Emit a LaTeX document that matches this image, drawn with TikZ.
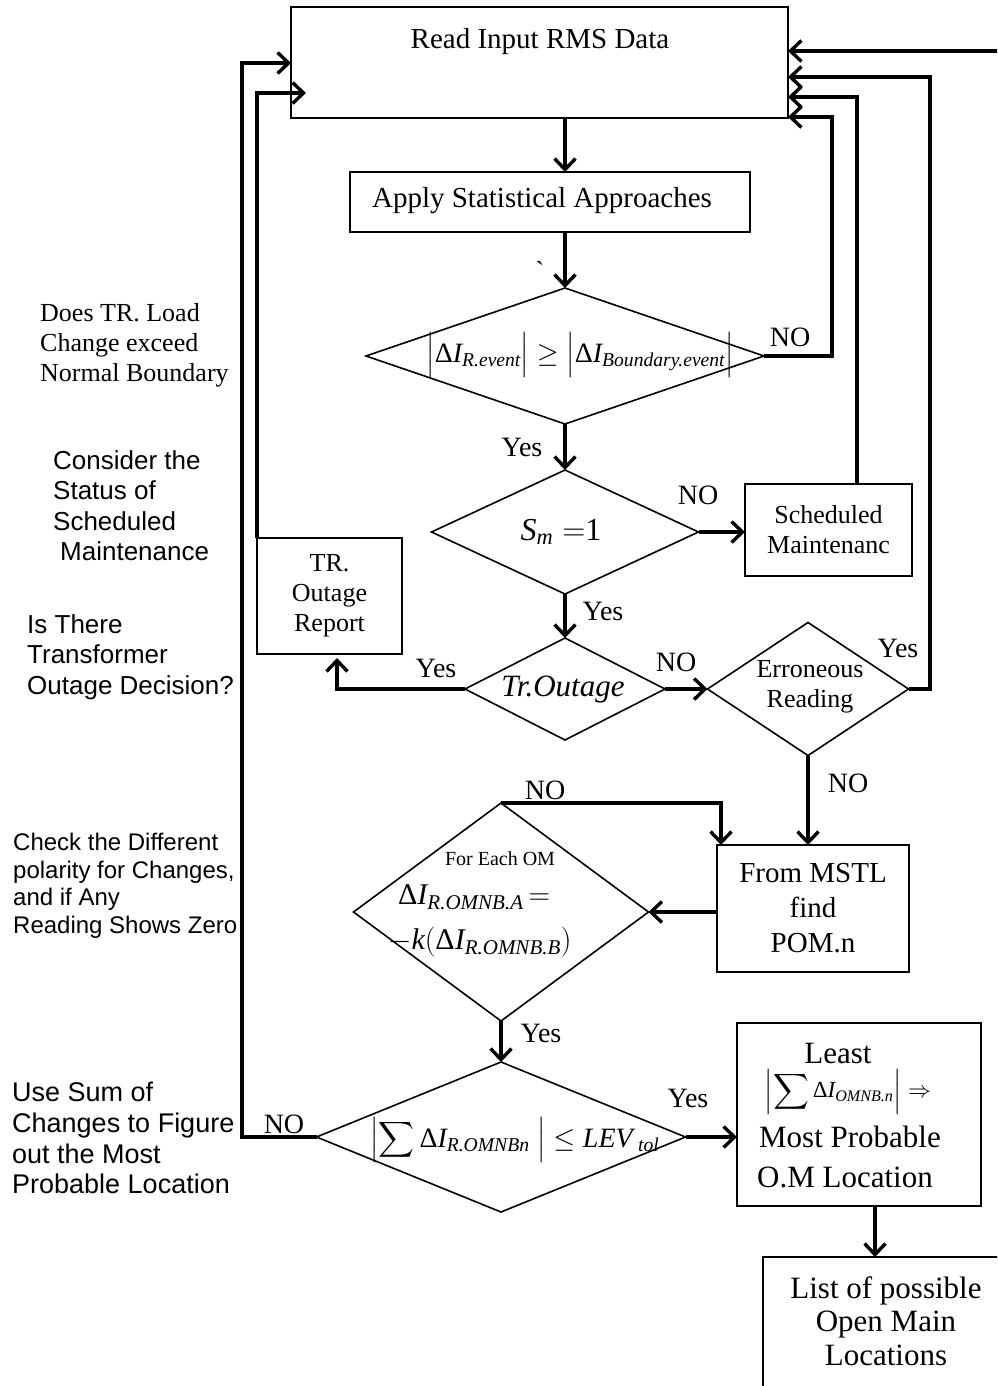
\RequirePackage{fix-cm}
\documentclass[tikz,border=0pt]{standalone}
\usepackage{amsmath}
\usepackage{fontspec}
\setmainfont{Liberation Serif}
\newfontfamily\notefont{Liberation Sans}
\usetikzlibrary{shapes.geometric,arrows.meta,calc}

\newcommand{\fsz}[2]{\fontsize{#1}{#2}\selectfont}
\newcommand{\dI}{\text{Δ}\textit{I}}
\newcommand{\barstrut}[2]{\rule[-#1]{0pt}{#2}}

\begin{document}
\begin{tikzpicture}[x=1pt,y=-1pt,
  box/.style={draw, line width=1.6pt, inner sep=0pt, outer sep=0pt},
  dec/.style={draw, diamond, line width=1.6pt, inner sep=0pt, outer sep=0pt},
  wire/.style={line width=3.4pt},
  flow/.style={wire, -{Straight Barb[length=11pt,width=21pt]}},
  txt/.style={inner sep=0pt, align=center, font=\fsz{26}{30}},
  big/.style={inner sep=0pt, align=center, font=\fsz{29}{35}},
  tag/.style={inner sep=0pt, font=\fsz{28}{30}},
  serifnote/.style={inner sep=0pt, align=left, anchor=west, font=\fsz{26}{30}},
  note/.style={inner sep=0pt, align=left, anchor=west, font=\notefont\fsz{26}{30.5}},
]
\useasboundingbox (0,0) rectangle (997,1386);
\clip (0,0) rectangle (997,1386);

% ---------- process blocks ----------
\node[box, minimum width=497pt, minimum height=111pt] (read) at (539.5,62.5) {};
\node[big] (readtxt) at (540,42) {Read Input RMS Data};

\node[box, minimum width=400pt, minimum height=60pt] (apply) at (550,202) {};
\node[big] (applytxt) at (542,201) {Apply Statistical Approaches};
\node[inner sep=0pt, font=\fsz{26}{30}\addfontfeature{Ligatures=TeXOff}] (tick) at (540,270) {`};

\coordinate (spine) at (565,0);

% boundary test
\node[dec, minimum width=398pt, minimum height=136pt] (d1) at (565,356) {};
\node[inner sep=0pt, font=\fsz{28}{32}] (d1t) at (580,356)
  {$\left|\barstrut{17pt}{44pt}\dI_{\textit{R.event}}\right|\geq
    \left|\barstrut{17pt}{44pt}\dI_{\textit{Boundary.event}}\right|$};

% scheduled maintenance test
\node[dec, minimum width=267pt, minimum height=124pt] (d2) at (565,532) {};
\node[inner sep=0pt, font=\fsz{32}{36}] (d2t) at (561,532) {$\textit{S}_{\textit{m}}\;{=}\text{1}$};

\node[box, minimum width=167pt, minimum height=92pt, txt] (sched) at (828.5,530) {Scheduled\\Maintenanc};

% outage test
\node[dec, minimum width=200pt, minimum height=102pt] (d3) at (565,689) {};
\node[inner sep=0pt, font=\fsz{31}{34}\itshape] (d3t) at (563,690) {Tr.Outage};

\node[box, minimum width=145pt, minimum height=116pt, txt] (trbox) at (329.5,596) {TR.\\Outage\\Report};

% erroneous reading test
\node[dec, minimum width=201pt, minimum height=133pt] (err) at (808,689) {};
\node[txt] (errt) at (810,687) {Erroneous\\Reading};

\node[box, minimum width=192pt, minimum height=127pt, big] (mstl) at (813,908.5) {From MSTL\\find\\POM.n};

% polarity test
\node[dec, minimum width=295pt, minimum height=218pt] (d4) at (501,912) {};
\node[inner sep=0pt, font=\fsz{20}{22}] (d4a) at (500,859) {For Each OM};
\node[inner sep=0pt, anchor=west, font=\fsz{30}{34}] (d4b) at (398,897)
  {$\dI_{\textit{R.OMNB.A}}\,{=}$};
\node[inner sep=0pt, anchor=west, font=\fsz{30}{34}] (d4c) at (388,942)
  {$-\textit{k}(\dI_{\textit{R.OMNB.B}})$};

% sum test
\node[dec, minimum width=369pt, minimum height=150pt] (d5) at (501,1137) {};
\node[inner sep=0pt, font=\fsz{28}{32}] (d5t) at (515,1140)
  {$\left|\displaystyle\sum\dI_{\textit{R.OMNBn}}\;\right|\leq\textit{LEV}_{\;\textit{tol}}$};

\node[box, minimum width=244pt, minimum height=183pt] (least) at (859,1114.5) {};
\node[inner sep=0pt, font=\fsz{31}{34}] (least1) at (838,1053) {Least};
\node[inner sep=0pt, font=\fsz{23}{26}] (least2) at (848,1092)
  {$\left|\displaystyle\sum\dI_{\scriptstyle\textit{OMNB.n}}\right|\Rightarrow$};
\node[inner sep=0pt, font=\fsz{31}{34}] (least3) at (850,1137) {Most Probable};
\node[inner sep=0pt, font=\fsz{31}{34}] (least4) at (845,1177) {O.M Location};

\node[box, minimum width=260pt, minimum height=160pt, anchor=north west] (list) at (763,1257) {};
\node[inner sep=0pt, align=center, font=\fsz{31}{33.5}] (listt) at (886,1321) {List of possible\\Open Main\\Locations};

% ---------- connectors ----------
\coordinate (ext) at (1000,51);
\coordinate (r2) at (930,77);
\coordinate (r3) at (857,97);
\coordinate (r4) at (832,117);
\coordinate (l1) at (242,63);
\coordinate (l2) at (259,93);
\coordinate (l2tip) at (306,93);
\coordinate (trtip) at (337,658);
\coordinate (d4no) at (721,803);
\coordinate (ll) at (875,0);

\draw[flow] (ext) -- (read.east |- ext);
\draw[flow] (read.south -| spine) -- (apply.north -| spine);
\draw[flow] (apply.south -| spine) -- (d1.north);
\draw[flow] (d1.east) -| (r4) -- (read.east |- r4);
\draw[flow] (d1.south) -- (d2.north);
\draw[flow] (d2.east) -- (sched.west |- d2.east);
\draw[flow] (sched.north -| r3) -- (r3) -- (read.east |- r3);
\draw[flow] (d2.south) -- (d3.north);
\draw[flow] (d3.west) -| (trtip);
\draw[flow] (trbox.north west) -- (trbox.north west |- l2) -- (l2tip);
\draw[flow] (d3.east) -- (err.west);
\draw[flow] (err.east) -| (r2) -- (read.east |- r2);
\draw[flow] (err.south) -- (err.south |- mstl.north);
\draw[flow] (d4.north) -- (d4no) -- (d4no |- mstl.north);
\draw[flow] (mstl.west |- d4.east) -- (d4.east);
\draw[flow] (d4.south) -- (d5.north);
\draw[flow] (d5.east) -- (least.west |- d5.east);
\draw[flow] (d5.west) -| (l1) -- (read.west |- l1);
\draw[flow] (least.south -| ll) -- (list.north -| ll);

% ---------- branch labels ----------
\node[tag] (n1) at (790,337) {NO};
\node[tag] (y1) at (522,447) {Yes};
\node[tag] (n2) at (698,495) {NO};
\node[tag] (y2) at (603,611) {Yes};
\node[tag] (y3) at (436,668) {Yes};
\node[tag] (n3) at (676,662) {NO};
\node[tag] (y4) at (898,648) {Yes};
\node[tag] (n4) at (848,783) {NO};
\node[tag] (n5) at (545,790) {NO};
\node[tag] (y5) at (541,1033) {Yes};
\node[tag] (y6) at (688,1098) {Yes};
\node[tag] (n6) at (284,1124) {NO};

% ---------- side notes ----------
\node[serifnote] (note1) at (40,345) {Does TR. Load\\Change exceed\\Normal Boundary};
\node[note] (note2) at (53,505.5) {Consider the\\Status of\\Scheduled\\\hspace*{7pt}Maintenance};
\node[note] (note3) at (27,657) {Is There\\Transformer\\Outage Decision?};
\node[note, font=\notefont\fsz{24}{27.5}] (note4) at (13,886) {Check the Different\\polarity for Changes,\\and if Any\\Reading Shows Zero};
\node[note, font=\notefont\fsz{27}{30.7}] (note5) at (12,1138) {Use Sum of\\Changes to Figure\\out the Most\\Probable Location};
\end{tikzpicture}
\end{document}
